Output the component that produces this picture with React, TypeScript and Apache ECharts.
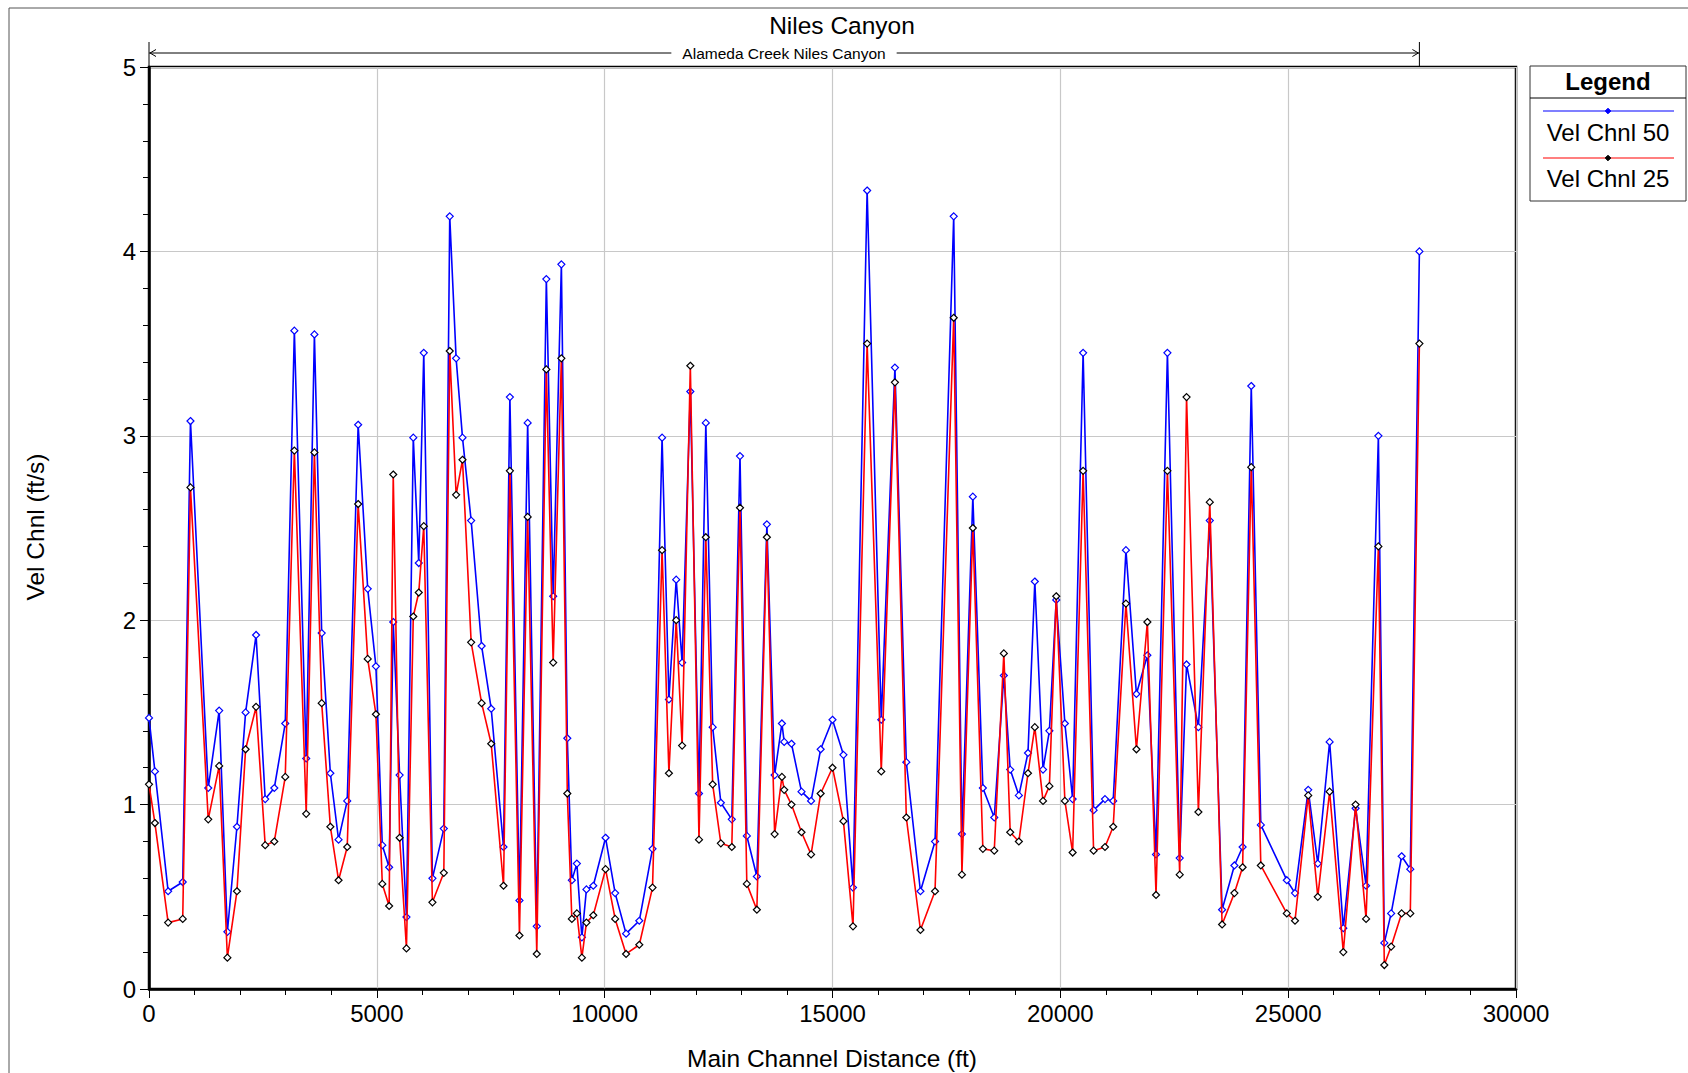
import React, { useEffect, useRef } from "react";
import * as echarts from "echarts";

const stations = [
  0, 130, 420, 740, 910, 1300, 1540, 1720, 1930, 2120, 2350, 2550, 2750, 2990, 3190, 3450, 3630,
  3790, 3980, 4160, 4350, 4590, 4800, 4980, 5120, 5270, 5360, 5500, 5650, 5800, 5920, 6030, 6220,
  6470, 6600, 6740, 6880, 7070, 7300, 7510, 7780, 7920, 8130, 8310, 8510, 8720, 8870, 9050, 9180,
  9280, 9390, 9500, 9600, 9750, 10020, 10230, 10470, 10760, 11050, 11260, 11410, 11570, 11700,
  11880, 12070, 12220, 12370, 12550, 12790, 12970, 13120, 13340, 13560, 13730, 13890, 13940, 14100,
  14320, 14530, 14740, 15000, 15240, 15450, 15760, 16070, 16370, 16620, 16930, 17250, 17660, 17840,
  18080, 18300, 18550, 18760, 18900, 19090, 19290, 19440, 19620, 19760, 19910, 20100, 20270, 20500,
  20730, 20980, 21160, 21440, 21670, 21910, 22100, 22350, 22620, 22770, 23030, 23280, 23550, 23820,
  24000, 24190, 24400, 24970, 25150, 25440, 25650, 25910, 26210, 26480, 26710, 26980, 27110, 27260,
  27490, 27680, 27880,
];

const velChnl50 = [
  1.47, 1.18, 0.53, 0.58, 3.08, 1.09, 1.51, 0.31, 0.88, 1.5, 1.92, 1.03, 1.09, 1.44, 3.57, 1.25, 3.55,
  1.93, 1.17, 0.81, 1.02, 3.06, 2.17, 1.75, 0.78, 0.66, 1.99, 1.16, 0.39, 2.99, 2.31, 3.45, 0.6,
  0.87, 4.19, 3.42, 2.99, 2.54, 1.86, 1.52, 0.77, 3.21, 0.48, 3.07, 0.34, 3.85, 2.13, 3.93, 1.36,
  0.59, 0.68, 0.28, 0.54, 0.56, 0.82, 0.52, 0.3, 0.37, 0.76, 2.99, 1.57, 2.22, 1.77,
  3.24, 1.06, 3.07, 1.42, 1.01, 0.92, 2.89, 0.83, 0.61, 2.52, 1.16, 1.44, 1.34, 1.33,
  1.07, 1.02, 1.3, 1.46, 1.27, 0.55, 4.33, 1.46, 3.37, 1.23, 0.53, 0.8, 4.19, 0.84,
  2.67, 1.09, 0.93, 1.7, 1.19, 1.05, 1.28, 2.21, 1.19, 1.4, 2.11, 1.44, 1.03, 3.45,
  0.97, 1.03, 1.02, 2.38, 1.6, 1.81, 0.73, 3.45, 0.71, 1.76, 1.42, 2.54, 0.43, 0.67,
  0.77, 3.27, 0.89, 0.59, 0.52, 1.08, 0.68, 1.34, 0.33, 0.98, 0.56, 3.0, 0.25, 0.41,
  0.72, 0.65, 4.0,
];

const velChnl25 = [
  1.11, 0.9, 0.36, 0.38, 2.72, 0.92, 1.21, 0.17, 0.53, 1.3, 1.53, 0.78, 0.8, 1.15, 2.92, 0.95, 2.91,
  1.55, 0.88, 0.59, 0.77, 2.63, 1.79, 1.49, 0.57, 0.45, 2.79, 0.82, 0.22, 2.02, 2.15, 2.51, 0.47,
  0.63, 3.46, 2.68, 2.87, 1.88, 1.55, 1.33, 0.56, 2.81, 0.29, 2.56, 0.19, 3.36, 1.77, 3.42, 1.06,
  0.38, 0.41, 0.17, 0.36, 0.4, 0.65, 0.38, 0.19, 0.24, 0.55, 2.38, 1.17, 2.0, 1.32,
  3.38, 0.81, 2.45, 1.11, 0.79, 0.77, 2.61, 0.57, 0.43, 2.45, 0.84, 1.15, 1.08, 1.0,
  0.85, 0.73, 1.06, 1.2, 0.91, 0.34, 3.5, 1.18, 3.29, 0.93, 0.32, 0.53, 3.64, 0.62,
  2.5, 0.76, 0.75, 1.82, 0.85, 0.8, 1.17, 1.42, 1.02, 1.1, 2.13, 1.02, 0.74, 2.81,
  0.75, 0.77, 0.88, 2.09, 1.3, 1.99, 0.51, 2.81, 0.62, 3.21, 0.96, 2.64, 0.35, 0.52,
  0.66, 2.83, 0.67, 0.41, 0.37, 1.05, 0.5, 1.07, 0.2, 1.0, 0.38, 2.4, 0.13, 0.23,
  0.41, 0.41, 3.5,
];

const seriesNames = ["Vel Chnl 50", "Vel Chnl 25"];
const lineColors = ["#0000ff", "#ff0000"];
const markerColors = ["#0000ff", "#000000"];
const chartTitle = "Niles Canyon";
const reachName = "Alameda Creek Niles Canyon";
const xAxisTitle = "Main Channel Distance (ft)";
const yAxisTitle = "Vel Chnl (ft/s)";

const FONT = "'Liberation Sans', Arial, sans-serif";

export default function App() {
  const ref = useRef<HTMLDivElement>(null);

  useEffect(() => {
    const chart = echarts.init(ref.current!, null, { renderer: "svg" });
    const allSeries = [velChnl50, velChnl25];

    const option: any = {
      animation: false,
      backgroundColor: "#ffffff",
      grid: {
        left: 149,
        top: 67,
        width: 1367,
        height: 922,
        show: true,
        borderColor: "#000",
        borderWidth: 2.5,
        backgroundColor: "transparent",
      },
      xAxis: {
        type: "value",
        min: 0,
        max: 30000,
        interval: 5000,
        axisLine: { show: true, onZero: false, lineStyle: { color: "#000", width: 2.5 } },
        axisTick: { show: true, inside: false, length: 9, lineStyle: { color: "#000", width: 1 } },
        minorTick: { show: true, splitNumber: 5, length: 6, lineStyle: { color: "#000", width: 1 } },
        axisLabel: {
          color: "#000", fontFamily: FONT, fontSize: 24, margin: 12,
          formatter: (v: number) => String(v),
        },
        splitLine: { show: true, lineStyle: { color: "#c8c8c8", width: 1.2 } },
      },
      yAxis: {
        type: "value",
        min: 0,
        max: 5,
        interval: 1,
        axisLine: { show: true, onZero: false, lineStyle: { color: "#000", width: 2.5 } },
        axisTick: { show: true, inside: false, length: 9, lineStyle: { color: "#000", width: 1 } },
        minorTick: { show: true, splitNumber: 5, length: 6, lineStyle: { color: "#000", width: 1 } },
        axisLabel: {
          color: "#000", fontFamily: FONT, fontSize: 24, margin: 13,
          formatter: (v: number) => String(v),
        },
        splitLine: { show: true, lineStyle: { color: "#c8c8c8", width: 1.2 } },
      },
      series: allSeries.map((vals, i) => ({
        name: seriesNames[i],
        type: "line",
        data: stations.map((s, j) => [s, vals[j]]),
        symbol: "diamond",
        symbolSize: 7,
        showSymbol: true,
        showAllSymbol: true,
        lineStyle: { color: lineColors[i], width: 1.6 },
        itemStyle: { color: "#ffffff", borderColor: markerColors[i], borderWidth: 1.2 },
        z: 3 + i,
      })),
    };
    chart.setOption(option);

    const xStart = chart.convertToPixel({ xAxisIndex: 0 }, stations[0]) as number;
    const xEnd = chart.convertToPixel({ xAxisIndex: 0 }, stations[stations.length - 1]) as number;
    const ay = 53;

    const lgX = 1530, lgY = 66, lgW = 156, lgH = 135;
    const lgC = lgX + lgW / 2;
    const diamond = (cx: number, cy: number, r: number, fill: string) => ({
      type: "polygon",
      shape: { points: [[cx, cy - r], [cx + r, cy], [cx, cy + r], [cx - r, cy]] },
      style: { fill, stroke: fill, lineWidth: 1 },
      z: 102,
    });

    const graphic: any[] = [
      { type: "line", shape: { x1: 9, y1: 8, x2: 1688, y2: 8 }, style: { stroke: "#555", lineWidth: 1 } },
      { type: "line", shape: { x1: 9, y1: 8, x2: 9, y2: 1073 }, style: { stroke: "#555", lineWidth: 1 } },
      {
        type: "text", x: 842, y: 25,
        style: { text: chartTitle, font: `24.5px ${FONT}`, fill: "#000", align: "center", verticalAlign: "middle" },
      },
      { type: "line", shape: { x1: xStart, y1: ay, x2: xEnd, y2: ay }, style: { stroke: "#000", lineWidth: 1 } },
      { type: "line", shape: { x1: xStart, y1: 42, x2: xStart, y2: 66 }, style: { stroke: "#000", lineWidth: 1 } },
      { type: "line", shape: { x1: xEnd, y1: 42, x2: xEnd, y2: 66 }, style: { stroke: "#000", lineWidth: 1 } },
      {
        type: "polyline",
        shape: { points: [[xStart + 7, ay - 3.5], [xStart + 1, ay], [xStart + 7, ay + 3.5]] },
        style: { stroke: "#000", lineWidth: 1, fill: "none" },
      },
      {
        type: "polyline",
        shape: { points: [[xEnd - 7, ay - 3.5], [xEnd - 1, ay], [xEnd - 7, ay + 3.5]] },
        style: { stroke: "#000", lineWidth: 1, fill: "none" },
      },
      {
        type: "text", x: 784, y: ay, z: 101,
        style: {
          text: reachName, font: `15.5px ${FONT}`, fill: "#000", align: "center", verticalAlign: "middle",
          backgroundColor: "#fff", padding: [2, 11],
        },
      },
      {
        type: "text", x: 832, y: 1058,
        style: { text: xAxisTitle, font: `24.5px ${FONT}`, fill: "#000", align: "center", verticalAlign: "middle" },
      },
      {
        type: "text", x: 35, y: 527, rotation: Math.PI / 2,
        style: { text: yAxisTitle, font: `24.5px ${FONT}`, fill: "#000", align: "center", verticalAlign: "middle" },
      },
      {
        type: "rect", shape: { x: lgX, y: lgY, width: lgW, height: lgH }, z: 100,
        style: { fill: "#fff", stroke: "#333", lineWidth: 1 },
      },
      {
        type: "text", x: lgC, y: 81, z: 101,
        style: { text: "Legend", font: `bold 24px ${FONT}`, fill: "#000", align: "center", verticalAlign: "middle" },
      },
      { type: "line", z: 101, shape: { x1: lgX, y1: 98, x2: lgX + lgW, y2: 98 }, style: { stroke: "#000", lineWidth: 1 } },
    ];

    const entryLineY = [111, 158];
    const entryTextY = [132, 178];
    seriesNames.forEach((name, i) => {
      graphic.push({
        type: "line", z: 101,
        shape: { x1: 1543, y1: entryLineY[i], x2: 1674, y2: entryLineY[i] },
        style: { stroke: lineColors[i], lineWidth: 1.2 },
      });
      graphic.push(diamond(lgC, entryLineY[i], 2.8, markerColors[i]));
      graphic.push({
        type: "text", x: lgC, y: entryTextY[i], z: 101,
        style: { text: name, font: `24px ${FONT}`, fill: "#000", align: "center", verticalAlign: "middle" },
      });
    });

    chart.setOption({ graphic });

    return () => chart.dispose();
  }, []);

  return (
    <div
      ref={ref}
      style={{ position: "fixed", left: 0, top: 0, width: 1688, height: 1073, background: "#fff" }}
    />
  );
}
